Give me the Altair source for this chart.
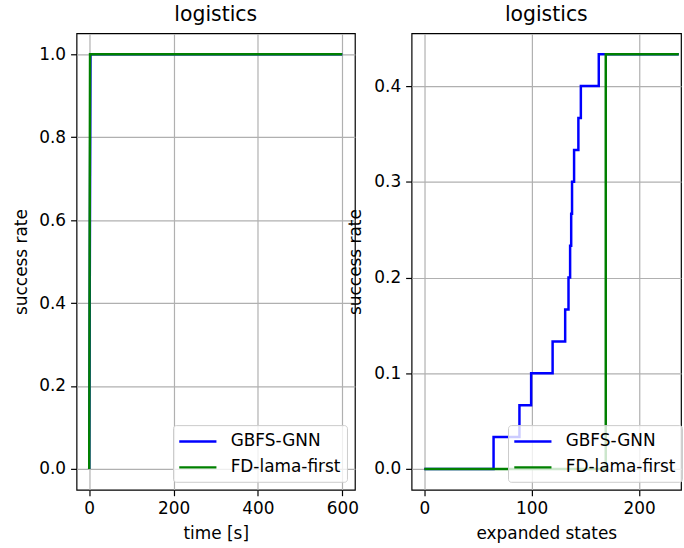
import altair as alt
import pandas as pd

# ---- data ----
series = ["GBFS-GNN", "FD-lama-first"]
series_colors = ["#0000ff", "#008000"]

# left panel: success rate vs time [s]
gnn_time_s = [0.0, 3.0, 600.0]
gnn_time_rate = [0.0, 1.0, 1.0]
lama_time_s = [0.0, 2.0, 600.0]
lama_time_rate = [0.0, 1.0, 1.0]

# right panel: success rate vs expanded states (step function)
gnn_states = [0, 64.5, 88.6, 99.5, 119.5, 131.2, 134.3, 135.8, 136.8, 137.6,
              139.5, 143.5, 145.8, 162.5, 237]
gnn_states_rate = [0.0, 0.0333, 0.0667, 0.1, 0.1333, 0.1667, 0.2, 0.2333, 0.2667, 0.3,
                   0.3333, 0.3667, 0.4, 0.4333, 0.4333]
lama_states = [0, 169, 237]
lama_states_rate = [0.0, 0.4333, 0.4333]

time_ticks = [0, 200, 400, 600]
time_rate_ticks = [0.0, 0.2, 0.4, 0.6, 0.8, 1.0]
states_ticks = [0, 100, 200]
states_rate_ticks = [0.0, 0.1, 0.2, 0.3, 0.4]

FONT = "DejaVu Sans"


def frame(xs_list, ys_list):
    rows = []
    for name, xs, ys in zip(series, xs_list, ys_list):
        for i, (x, y) in enumerate(zip(xs, ys)):
            rows.append({"planner": name, "x": x, "y": y, "idx": i})
    return pd.DataFrame(rows)


left_df = frame([gnn_time_s, lama_time_s], [gnn_time_rate, lama_time_rate])
right_df = frame([gnn_states, lama_states], [gnn_states_rate, lama_states_rate])


def panel(df, xtitle, xdomain, xticks, ydomain, yticks, width, interp, ytitle_x):
    color = alt.Color(
        "planner:N",
        scale=alt.Scale(domain=series, range=series_colors),
        legend=alt.Legend(
            title=None, orient="none", legendX=97, legendY=394, direction="vertical",
            symbolType="M-2.2,0H2.2", symbolSize=289, symbolStrokeWidth=2.5,
            symbolFillColor="transparent", symbolOffset=8.5,
            labelFontSize=17, labelFont=FONT, labelColor="black", labelOffset=23,
            padding=6.5, rowPadding=8, fillColor="rgba(255,255,255,0.8)",
            strokeColor="#cccccc", cornerRadius=3,
        ),
    )
    xenc = alt.X(
        "x:Q", title=xtitle,
        scale=alt.Scale(domain=xdomain, nice=False, zero=False),
        axis=alt.Axis(values=xticks, format="d", titleY=44, titleBaseline="middle"),
    )
    yenc = alt.Y(
        "y:Q", title="success rate",
        scale=alt.Scale(domain=ydomain, nice=False, zero=False),
        axis=alt.Axis(values=yticks, format=".1f", titleX=ytitle_x, titleY=229.5,
                      titleBaseline="middle", titleAlign="center"),
    )
    layers = []
    for s in series:
        layers.append(
            alt.Chart(df)
            .transform_filter(alt.datum.planner == s)
            .mark_line(interpolate=interp, strokeWidth=2.5, clip=True)
            .encode(x=xenc, y=yenc, color=color, order="idx:Q")
        )
    return alt.layer(*layers).properties(
        width=width, height=459,
        title=alt.TitleParams("logistics", fontSize=20.5, font=FONT, fontWeight="normal",
                              color="black", offset=-8, baseline="alphabetic"),
    )


left = panel(left_df, "time [s]", [-30, 630], time_ticks, [-0.05, 1.05], time_rate_ticks,
             280, "linear", -55)
right = panel(right_df, "expanded states", [-11.85, 239.1], states_ticks,
              [-0.02167, 0.455], states_rate_ticks, 271, "step-after", -56)

chart = (
    alt.hconcat(left, right, spacing=57, bounds="flush")
    .resolve_scale(color="independent")
    .resolve_legend(color="independent")
    .properties(padding={"left": 12, "top": 2, "right": 0, "bottom": 5}, background="white")
    .configure_view(stroke="black", strokeWidth=1.2)
    .configure_axis(
        domain=False, grid=True, gridColor="#b0b0b0", gridWidth=1.2,
        tickColor="black", tickWidth=1.2, tickSize=6, labelPadding=5,
        labelFont=FONT, labelFontSize=17, labelColor="black",
        titleFont=FONT, titleFontSize=17, titleColor="black", titleFontWeight="normal",
    )
)

chart.save("out.html", embed_options={"renderer": "svg", "actions": False})
